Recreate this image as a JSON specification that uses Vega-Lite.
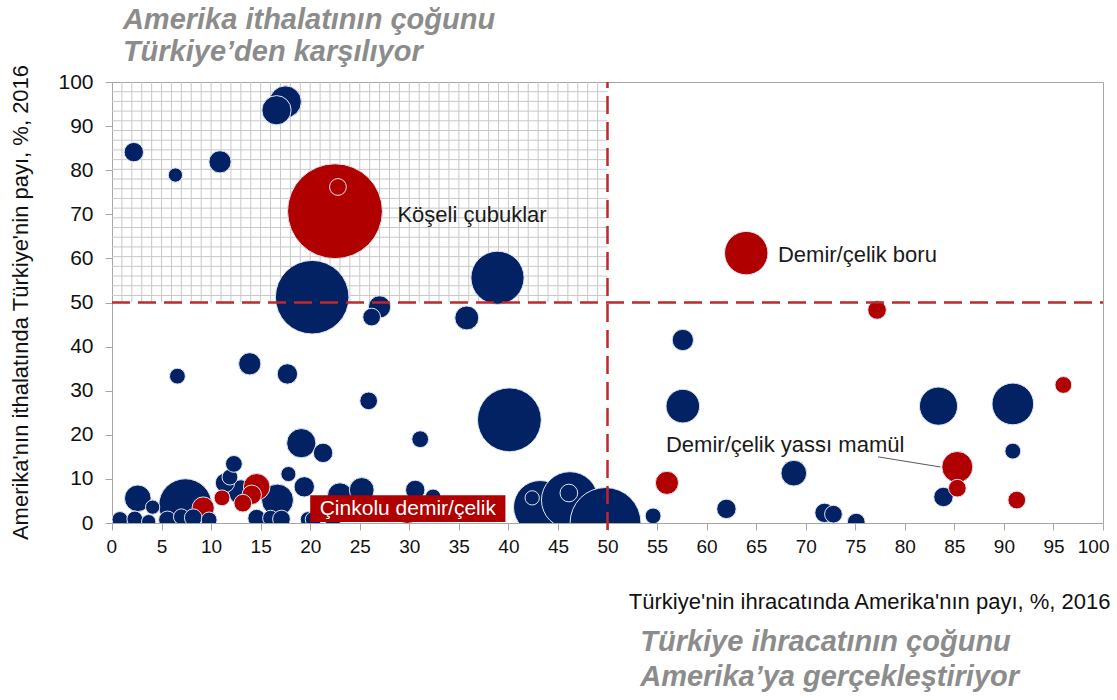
{
  "$schema": "https://vega.github.io/schema/vega-lite/v6.json",
  "width": 991,
  "height": 441,
  "autosize": "none",
  "padding": {"left": 112, "top": 82, "right": 14, "bottom": 177},
  "background": "white",
  "config": {"view": {"stroke": "#a6a6a6", "strokeWidth": 1}, "font": "Liberation Sans"},
  "datasets": {
    "izgara_x": [{"x":1},{"x":2},{"x":3},{"x":4},{"x":5},{"x":6},{"x":7},{"x":8},{"x":9},{"x":10},{"x":11},{"x":12},{"x":13},{"x":14},{"x":15},{"x":16},{"x":17},{"x":18},{"x":19},{"x":20},{"x":21},{"x":22},{"x":23},{"x":24},{"x":25},{"x":26},{"x":27},{"x":28},{"x":29},{"x":30},{"x":31},{"x":32},{"x":33},{"x":34},{"x":35},{"x":36},{"x":37},{"x":38},{"x":39},{"x":40},{"x":41},{"x":42},{"x":43},{"x":44},{"x":45},{"x":46},{"x":47},{"x":48},{"x":49}],
    "izgara_y": [{"y":97.8},{"y":95.6},{"y":93.4},{"y":91.2},{"y":89.0},{"y":86.8},{"y":84.6},{"y":82.4},{"y":80.2},{"y":78.0},{"y":75.8},{"y":73.6},{"y":71.4},{"y":69.2},{"y":67.0},{"y":64.8},{"y":62.6},{"y":60.4},{"y":58.2},{"y":56.0},{"y":53.8},{"y":51.6}],
    "kabarciklar": [
      {"x":7.4,"y":4.0,"deger":36.0,"grup":"diğer"},
      {"x":2.6,"y":5.6,"deger":9.0,"grup":"diğer"},
      {"x":4.1,"y":3.6,"deger":2.6,"grup":"diğer"},
      {"x":13.0,"y":7.0,"deger":7.8,"grup":"diğer"},
      {"x":16.7,"y":5.2,"deger":13.0,"grup":"diğer"},
      {"x":11.4,"y":9.1,"deger":4.8,"grup":"diğer"},
      {"x":11.9,"y":10.4,"deger":3.2,"grup":"diğer"},
      {"x":12.3,"y":13.4,"deger":3.6,"grup":"diğer"},
      {"x":17.8,"y":11.1,"deger":2.9,"grup":"diğer"},
      {"x":19.4,"y":8.2,"deger":5.3,"grup":"diğer"},
      {"x":14.6,"y":8.2,"deger":9.0,"grup":"vurgulu"},
      {"x":14.1,"y":6.4,"deger":4.8,"grup":"vurgulu"},
      {"x":9.2,"y":3.4,"deger":6.3,"grup":"vurgulu"},
      {"x":11.1,"y":5.7,"deger":3.2,"grup":"vurgulu"},
      {"x":13.2,"y":4.5,"deger":4.0,"grup":"vurgulu"},
      {"x":0.8,"y":0.8,"deger":3.2,"grup":"diğer"},
      {"x":2.3,"y":0.9,"deger":3.2,"grup":"diğer"},
      {"x":3.7,"y":0.3,"deger":2.6,"grup":"diğer"},
      {"x":5.6,"y":0.7,"deger":4.0,"grup":"diğer"},
      {"x":7.0,"y":1.4,"deger":3.2,"grup":"diğer"},
      {"x":8.2,"y":1.2,"deger":4.0,"grup":"diğer"},
      {"x":9.8,"y":0.7,"deger":3.2,"grup":"diğer"},
      {"x":14.6,"y":1.1,"deger":4.0,"grup":"diğer"},
      {"x":16.0,"y":1.1,"deger":3.2,"grup":"diğer"},
      {"x":17.1,"y":0.9,"deger":4.0,"grup":"diğer"},
      {"x":19.8,"y":0.8,"deger":3.2,"grup":"diğer"},
      {"x":23.0,"y":6.3,"deger":7.8,"grup":"diğer"},
      {"x":25.2,"y":7.5,"deger":7.8,"grup":"diğer"},
      {"x":30.6,"y":7.5,"deger":4.8,"grup":"diğer"},
      {"x":32.4,"y":5.9,"deger":3.2,"grup":"diğer"},
      {"x":29.8,"y":2.3,"deger":5.8,"grup":"vurgulu"},
      {"x":20.3,"y":0.8,"deger":3.2,"grup":"diğer"},
      {"x":22.3,"y":0.8,"deger":3.2,"grup":"diğer"},
      {"x":43.2,"y":3.6,"deger":36.0,"grup":"diğer"},
      {"x":42.4,"y":5.7,"deger":2.6,"grup":"diğer"},
      {"x":46.2,"y":5.2,"deger":41.0,"grup":"diğer"},
      {"x":46.1,"y":6.8,"deger":4.0,"grup":"diğer"},
      {"x":49.8,"y":0.0,"deger":64.0,"grup":"diğer"},
      {"x":6.6,"y":33.3,"deger":3.2,"grup":"diğer"},
      {"x":13.9,"y":36.1,"deger":6.3,"grup":"diğer"},
      {"x":17.7,"y":33.8,"deger":5.3,"grup":"diğer"},
      {"x":25.9,"y":27.7,"deger":4.0,"grup":"diğer"},
      {"x":40.1,"y":23.4,"deger":51.8,"grup":"diğer"},
      {"x":31.1,"y":19.0,"deger":3.6,"grup":"diğer"},
      {"x":19.1,"y":18.1,"deger":10.9,"grup":"diğer"},
      {"x":21.3,"y":15.9,"deger":4.8,"grup":"diğer"},
      {"x":17.5,"y":95.5,"deger":13.0,"grup":"diğer"},
      {"x":16.6,"y":93.6,"deger":10.9,"grup":"diğer"},
      {"x":2.2,"y":84.1,"deger":4.8,"grup":"diğer"},
      {"x":6.4,"y":78.9,"deger":2.6,"grup":"diğer"},
      {"x":10.9,"y":81.9,"deger":6.3,"grup":"diğer"},
      {"x":22.5,"y":70.7,"deger":114.5,"grup":"vurgulu"},
      {"x":22.8,"y":76.2,"deger":3.6,"grup":"vurgulu"},
      {"x":20.2,"y":51.2,"deger":68.9,"grup":"diğer"},
      {"x":27.0,"y":49.0,"deger":6.3,"grup":"diğer"},
      {"x":26.2,"y":46.7,"deger":4.0,"grup":"diğer"},
      {"x":38.9,"y":55.6,"deger":36.0,"grup":"diğer"},
      {"x":35.8,"y":46.5,"deger":7.3,"grup":"diğer"},
      {"x":64.0,"y":61.2,"deger":24.0,"grup":"vurgulu"},
      {"x":77.2,"y":48.3,"deger":4.4,"grup":"vurgulu"},
      {"x":57.6,"y":41.5,"deger":5.8,"grup":"diğer"},
      {"x":57.6,"y":26.5,"deger":14.4,"grup":"diğer"},
      {"x":83.4,"y":26.5,"deger":18.5,"grup":"diğer"},
      {"x":90.9,"y":27.0,"deger":22.1,"grup":"diğer"},
      {"x":96.0,"y":31.3,"deger":3.6,"grup":"vurgulu"},
      {"x":90.9,"y":16.3,"deger":3.2,"grup":"diğer"},
      {"x":83.9,"y":5.9,"deger":4.8,"grup":"diğer"},
      {"x":85.3,"y":12.7,"deger":12.3,"grup":"vurgulu"},
      {"x":85.3,"y":7.9,"deger":4.0,"grup":"vurgulu"},
      {"x":91.3,"y":5.2,"deger":4.0,"grup":"vurgulu"},
      {"x":68.8,"y":11.3,"deger":8.4,"grup":"diğer"},
      {"x":56.0,"y":9.1,"deger":6.8,"grup":"vurgulu"},
      {"x":62.0,"y":3.2,"deger":4.8,"grup":"diğer"},
      {"x":54.6,"y":1.6,"deger":3.2,"grup":"diğer"},
      {"x":71.9,"y":2.3,"deger":4.8,"grup":"diğer"},
      {"x":72.8,"y":2.0,"deger":4.0,"grup":"diğer"},
      {"x":75.1,"y":0.2,"deger":4.0,"grup":"diğer"}
    ],
    "etiketler": [
      {"x":28.8,"y":69.8,"metin":"Köşeli çubuklar"},
      {"x":67.2,"y":60.8,"metin":"Demir/çelik boru"},
      {"x":55.9,"y":17.7,"metin":"Demir/çelik yassı mamül"}
    ],
    "basliklar": [
      {"x":1.1,"y":114.1,"metin":"Amerika ithalatının çoğunu"},
      {"x":1.1,"y":106.8,"metin":"Türkiye’den karşılıyor"},
      {"x":53.3,"y":-27.0,"metin":"Türkiye ihracatının çoğunu"},
      {"x":53.3,"y":-34.9,"metin":"Amerika’ya gerçekleştiriyor"}
    ]
  },
  "layer": [
    {
      "data": {"name": "izgara_x"},
      "mark": {"type": "rule", "color": "#c8c8c8", "strokeWidth": 1},
      "encoding": {
        "x": {"field": "x", "type": "quantitative", "scale": {"domain": [0, 100], "nice": false, "zero": false}},
        "y": {"datum": 50, "type": "quantitative", "scale": {"domain": [0, 100], "nice": false, "zero": false}},
        "y2": {"datum": 100}
      }
    },
    {
      "data": {"name": "izgara_y"},
      "mark": {"type": "rule", "color": "#c8c8c8", "strokeWidth": 1},
      "encoding": {
        "x": {"datum": 0, "type": "quantitative"},
        "x2": {"datum": 50},
        "y": {"field": "y", "type": "quantitative"}
      }
    },
    {
      "data": {"name": "kabarciklar"},
      "mark": {"type": "circle", "clip": true, "opacity": 1, "stroke": "#dde6f4", "strokeWidth": 1},
      "encoding": {
        "x": {
          "field": "x", "type": "quantitative",
          "scale": {"domain": [0, 100], "nice": false, "zero": false},
          "axis": {
            "title": "Türkiye'nin ihracatında Amerika'nın payı, %, 2016",
            "values": [0,5,10,15,20,25,30,35,40,45,50,55,60,65,70,75,80,85,90,95,100],
            "grid": false, "domainColor": "#a6a6a6", "tickColor": "#a6a6a6", "tickSize": 7,
            "labelFontSize": 19, "labelColor": "#111111", "labelPadding": 7, "labelFlush": true, "labelFlushOffset": 6,
            "titleFontSize": 22, "titleFontWeight": "normal", "titleColor": "#111111",
            "titleAnchor": "end", "titleAlign": "right", "titleBaseline": "middle", "titleX": 998, "titleY": 78
          }
        },
        "y": {
          "field": "y", "type": "quantitative",
          "scale": {"domain": [0, 100], "nice": false, "zero": false},
          "axis": {
            "title": "Amerika'nın ithalatında Türkiye'nin payı, %, 2016",
            "values": [0,10,20,30,40,50,60,70,80,90,100],
            "grid": false, "domainColor": "#a6a6a6", "tickColor": "#a6a6a6", "tickSize": 7,
            "labelFontSize": 21, "labelColor": "#111111", "labelPadding": 12, "labelFlush": false,
            "titleFontSize": 22, "titleFontWeight": "normal", "titleColor": "#111111",
            "titleBaseline": "middle", "titleAlign": "center", "titleX": -92, "titleY": 220
          }
        },
        "size": {"field": "deger", "type": "quantitative", "scale": {"domain": [0, 100], "range": [0, 7854]}, "legend": null},
        "color": {"field": "grup", "type": "nominal", "scale": {"domain": ["diğer", "vurgulu"], "range": ["#032263", "#b00000"]}, "legend": null}
      }
    },
    {
      "data": {"values": [{}]},
      "mark": {"type": "rule", "color": "#c0282d", "strokeWidth": 2.5, "strokeDash": [18, 8]},
      "encoding": {"x": {"datum": 50, "type": "quantitative"}, "y": {"datum": -1.6, "type": "quantitative"}, "y2": {"datum": 100}}
    },
    {
      "data": {"values": [{}]},
      "mark": {"type": "rule", "color": "#c0282d", "strokeWidth": 2.5, "strokeDash": [18, 8]},
      "encoding": {"y": {"datum": 50, "type": "quantitative"}, "x": {"datum": 0, "type": "quantitative"}, "x2": {"datum": 100}}
    },
    {
      "data": {"values": [{}]},
      "mark": {"type": "rule", "color": "#595959", "strokeWidth": 1},
      "encoding": {"x": {"datum": 77.3, "type": "quantitative"}, "y": {"datum": 15.0, "type": "quantitative"}, "x2": {"datum": 83.6}, "y2": {"datum": 12.7}}
    },
    {
      "data": {"values": [{}]},
      "mark": {"type": "rect", "color": "#b00000"},
      "encoding": {"x": {"datum": 20.0, "type": "quantitative"}, "x2": {"datum": 39.7}, "y": {"datum": 0.2, "type": "quantitative"}, "y2": {"datum": 6.3}}
    },
    {
      "data": {"values": [{"metin": "Çinkolu demir/çelik"}]},
      "mark": {"type": "text", "color": "white", "fontSize": 21, "align": "center", "baseline": "middle"},
      "encoding": {"x": {"datum": 29.85, "type": "quantitative"}, "y": {"datum": 3.2, "type": "quantitative"}, "text": {"field": "metin"}}
    },
    {
      "data": {"name": "etiketler"},
      "mark": {"type": "text", "color": "#1a1a1a", "fontSize": 22, "align": "left", "baseline": "middle"},
      "encoding": {"x": {"field": "x", "type": "quantitative"}, "y": {"field": "y", "type": "quantitative"}, "text": {"field": "metin"}}
    },
    {
      "data": {"name": "basliklar"},
      "mark": {"type": "text", "color": "#8c8c8c", "fontSize": 29, "fontWeight": "bold", "fontStyle": "italic", "align": "left", "baseline": "middle"},
      "encoding": {"x": {"field": "x", "type": "quantitative"}, "y": {"field": "y", "type": "quantitative"}, "text": {"field": "metin"}}
    }
  ]
}
